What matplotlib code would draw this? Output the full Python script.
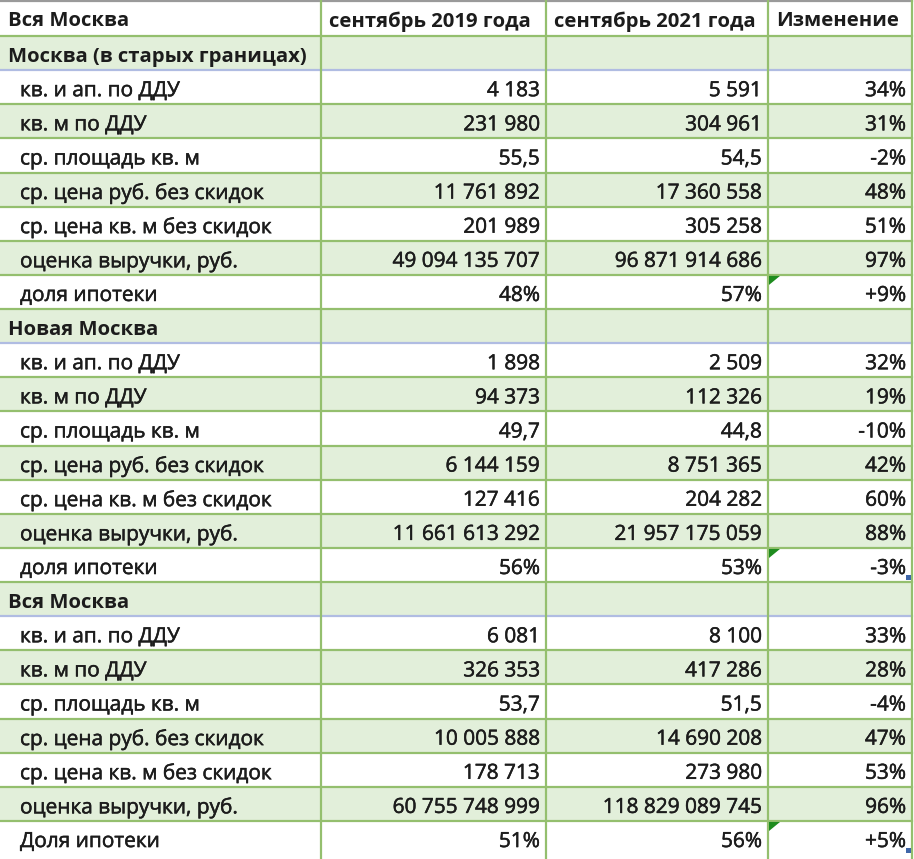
import matplotlib.pyplot as plt
import matplotlib.patheffects as pe
from matplotlib.patches import Polygon, Rectangle

plt.rcParams['font.family'] = ['Open Sans', 'DejaVu Sans']

# данные таблицы
header = ["Вся Москва", "сентябрь 2019 года", "сентябрь 2021 года", "Изменение"]
sections = ["Москва (в старых границах)", "Новая Москва", "Вся Москва"]
metrics = ["кв. и ап. по ДДУ", "кв. м по ДДУ", "ср. площадь кв. м",
           "ср. цена руб. без скидок", "ср. цена кв. м без скидок",
           "оценка выручки, руб.", "доля ипотеки"]
metrics_last = metrics[:-1] + ["Доля ипотеки"]

sep_2019 = [
    ["4 183", "231 980", "55,5", "11 761 892", "201 989", "49 094 135 707", "48%"],
    ["1 898", "94 373", "49,7", "6 144 159", "127 416", "11 661 613 292", "56%"],
    ["6 081", "326 353", "53,7", "10 005 888", "178 713", "60 755 748 999", "51%"],
]
sep_2021 = [
    ["5 591", "304 961", "54,5", "17 360 558", "305 258", "96 871 914 686", "57%"],
    ["2 509", "112 326", "44,8", "8 751 365", "204 282", "21 957 175 059", "53%"],
    ["8 100", "417 286", "51,5", "14 690 208", "273 980", "118 829 089 745", "56%"],
]
change = [
    ["34%", "31%", "-2%", "48%", "51%", "97%", "+9%"],
    ["32%", "19%", "-10%", "42%", "60%", "88%", "-3%"],
    ["33%", "28%", "-4%", "47%", "53%", "96%", "+5%"],
]

# оформление (пиксели)
W, H = 914, 859
col_x = [0, 321, 546, 768, 912]
header_h = 36
row_h = 34.13
fill_green = "#E2EFDA"
line_green = "#94BF6E"
line_blue = "#B0BCE2"
txt = "#1c1c1c"
fs = 15
fs_bold = 14.6
thick = [pe.withStroke(linewidth=0.35, foreground=txt)]

fig = plt.figure(figsize=(W / 100, H / 100), dpi=100)
ax = fig.add_axes([0, 0, 1, 1])
ax.set_xlim(0, W)
ax.set_ylim(H, 0)
ax.axis('off')


def row_top(i):
    # i = 0 -> шапка, дальше строки разделов
    if i == 0:
        return 0
    return header_h + (i - 1) * row_h


def put_row(i, cells, bold=False, green=False, first_indent=8, header_row=False):
    y0 = row_top(i)
    h = header_h if i == 0 else row_h
    if green:
        ax.add_patch(Rectangle((0, y0), col_x[-1], h, color=fill_green, lw=0, zorder=0))
    yc = y0 + h / 2 + 3.5
    if bold:
        ax.text(first_indent, yc, cells[0], ha='left', va='center', fontsize=fs_bold,
                fontweight='bold', color=txt)
    else:
        ax.text(first_indent, yc, cells[0], ha='left', va='center', fontsize=fs,
                color=txt, path_effects=thick)
    for j in range(1, 4):
        if cells[j] == "":
            continue
        if header_row:
            ax.text(col_x[j] + 8, yc, cells[j], ha='left', va='center',
                    fontsize=fs_bold, fontweight='bold', color=txt)
        else:
            ax.text(col_x[j + 1] - 6, yc, cells[j], ha='right', va='center',
                    fontsize=fs, color=txt, path_effects=thick)


put_row(0, header, bold=True, header_row=True)
blue_lines = []
corner_marks = []
r = 1
for s in range(len(sections)):
    put_row(r, [sections[s], "", "", ""], bold=True, green=True)
    blue_lines.append(row_top(r + 1))
    r += 1
    names = metrics_last if s == 2 else metrics
    for k in range(len(names)):
        put_row(r, [names[k], sep_2019[s][k], sep_2021[s][k], change[s][k]],
                green=(k % 2 == 1), first_indent=20)
        if k == len(names) - 1:
            corner_marks.append(r)
        r += 1

# сетка
n_rows = r
for i in range(1, n_rows):
    y = row_top(i)
    c = line_blue if y in blue_lines else line_green
    ax.plot([0, col_x[-1]], [y, y], color=c, lw=1.6, zorder=2)
ax.plot([0, col_x[-1]], [0.8, 0.8], color="#9a9a9a", lw=1.6, zorder=2)
for x in col_x[1:]:
    ax.plot([x, x], [0, H], color=line_green, lw=1.6, zorder=3)

# зелёные треугольники (примечания Excel) и маркеры
for i in corner_marks:
    y0 = row_top(i)
    x0 = col_x[3] + 1
    ax.add_patch(Polygon([[x0, y0 + 1], [x0 + 11, y0 + 1], [x0, y0 + 10]],
                         closed=True, color="#1E8C1E", lw=0, zorder=4))
for i in corner_marks[1:]:
    y1 = row_top(i) + row_h
    ax.add_patch(Rectangle((col_x[4] - 6, y1 - 7), 5, 5, color="#3F66A8", lw=0, zorder=4))

fig.savefig("out.png", dpi=100)
